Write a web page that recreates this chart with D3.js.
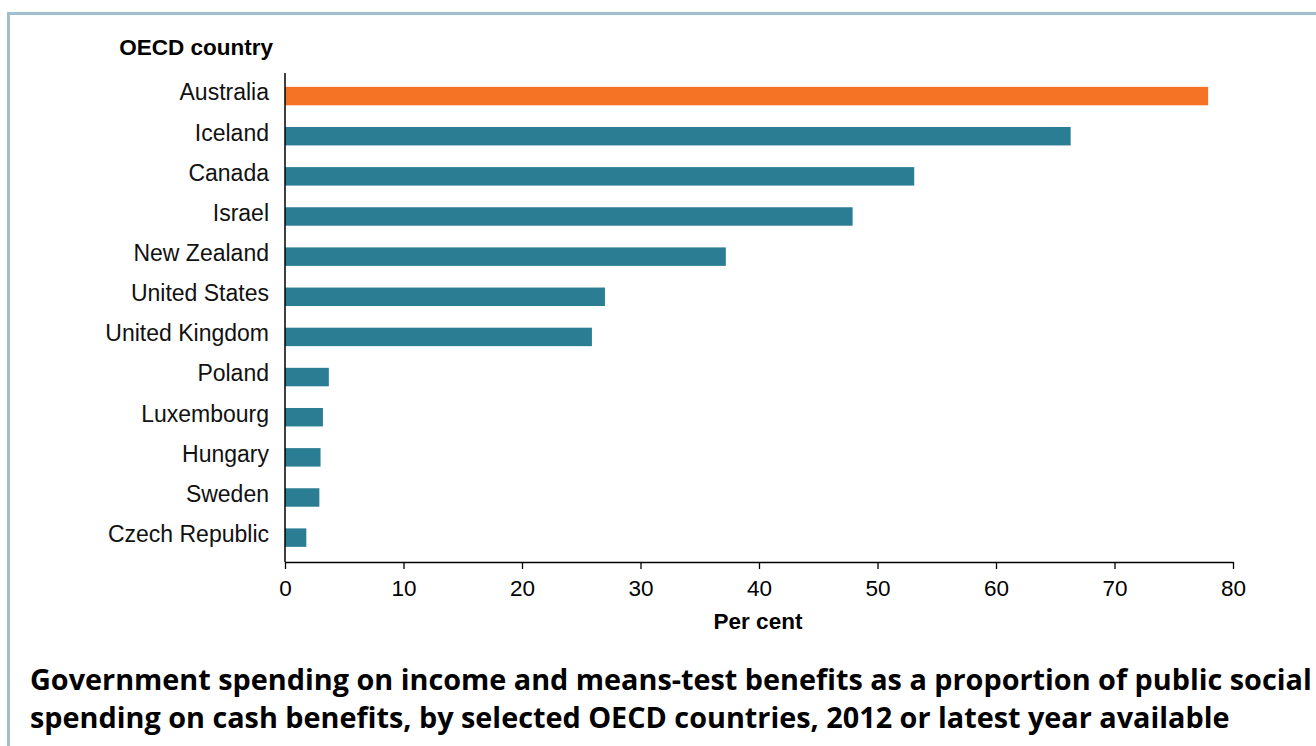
<!DOCTYPE html>
<html>
<head>
<meta charset="utf-8">
<script src="https://cdn.jsdelivr.net/npm/d3@7"></script>
<style>
html,body{margin:0;padding:0;background:#fff;}
svg{display:block;}
</style>
</head>
<body>
<svg id="chart" width="1316" height="746"></svg>
<script>
const categories = ["Australia","Iceland","Canada","Israel","New Zealand","United States","United Kingdom","Poland","Luxembourg","Hungary","Sweden","Czech Republic"];
const values = [77.9, 66.3, 53.1, 47.9, 37.2, 27.0, 25.9, 3.7, 3.2, 3.0, 2.9, 1.8];
const highlight = ["Australia"];
const xTicks = [0,10,20,30,40,50,60,70,80];
const yAxisTitle = "OECD country";
const xAxisTitle = "Per cent";
const titleLines = ["Government spending on income and means-test benefits as a proportion of public social",
                    "spending on cash benefits, by selected OECD countries, 2012 or latest year available"];

const svg = d3.select("#chart");
const fontA = "'Liberation Sans', Arial, sans-serif";

// frame border
svg.append("path").attr("d","M8.5,746 L8.5,13.5 L1316,13.5")
  .attr("fill","none").attr("stroke","#9fc0cc").attr("stroke-width",3);

const x = d3.scaleLinear().domain([0,80]).range([285,1233]);
const y = d3.scaleBand().domain(categories).range([76,557.7]).paddingInner(0.54).paddingOuter(0.27);

const g = svg.append("g");
g.selectAll("rect.bar").data(categories).join("rect")
  .attr("class","bar")
  .attr("x", x(0))
  .attr("y", d => y(d))
  .attr("width", (d,i) => x(values[i]) - x(0))
  .attr("height", y.bandwidth())
  .attr("fill", d => highlight.includes(d) ? "#f47325" : "#2b7d94");

// x axis
const xAxis = d3.axisBottom(x).tickValues(xTicks).tickSize(7).tickSizeOuter(0).tickPadding(11.5);
const xg = svg.append("g").attr("transform","translate(0,562)").call(xAxis);
xg.select(".domain").attr("stroke","#000").attr("stroke-width",1.5);
xg.selectAll(".tick line").attr("stroke","#000").attr("stroke-width",1.3);
xg.selectAll(".tick text").attr("font-family",fontA).attr("font-size","22.5px").attr("fill","#000");

// y axis
const yAxis = d3.axisLeft(y).tickSize(0).tickPadding(16);
const yg = svg.append("g").attr("transform","translate(285,0)").call(yAxis);
yg.select(".domain").attr("d","M0,73V562").attr("stroke","#000").attr("stroke-width",1.5);
yg.selectAll(".tick text").attr("font-family",fontA).attr("font-size","23px").attr("dy","0.19em").attr("fill","#111");

svg.append("text").attr("x",273).attr("y",55).attr("text-anchor","end")
  .attr("font-family",fontA).attr("font-weight","bold").attr("font-size","22.5px").text(yAxisTitle);
svg.append("text").attr("x",758).attr("y",629).attr("text-anchor","middle")
  .attr("font-family",fontA).attr("font-weight","bold").attr("font-size","22.5px").text(xAxisTitle);

svg.selectAll("text.title").data(titleLines).join("text")
  .attr("class","title")
  .attr("x",30).attr("y",(d,i)=>690+i*37.5)
  .attr("font-family","'Open Sans', sans-serif").attr("font-weight","bold").attr("font-size","28.8px")
  .attr("fill","#000").text(d=>d);
</script>
</body>
</html>
